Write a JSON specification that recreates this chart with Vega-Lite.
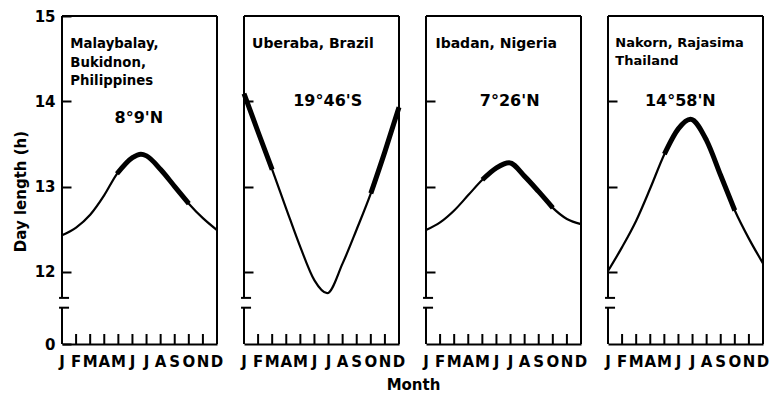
{
  "$schema": "https://vega.github.io/schema/vega-lite/v6.json",
  "padding": {"left": 13, "top": 9, "right": 5, "bottom": 5},
  "background": "white",
  "datasets": {
    "days": [
      {"site": "Malaybalay", "m": 1, "h": 12.43, "bold": 0},
      {"site": "Malaybalay", "m": 2, "h": 12.52, "bold": 0},
      {"site": "Malaybalay", "m": 3, "h": 12.67, "bold": 0},
      {"site": "Malaybalay", "m": 4, "h": 12.9, "bold": 0},
      {"site": "Malaybalay", "m": 4.9, "h": 13.15, "bold": 1},
      {"site": "Malaybalay", "m": 6, "h": 13.34, "bold": 1},
      {"site": "Malaybalay", "m": 6.6, "h": 13.38, "bold": 1},
      {"site": "Malaybalay", "m": 7, "h": 13.36, "bold": 1},
      {"site": "Malaybalay", "m": 8, "h": 13.2, "bold": 1},
      {"site": "Malaybalay", "m": 9, "h": 13.0, "bold": 1},
      {"site": "Malaybalay", "m": 10, "h": 12.8, "bold": 1},
      {"site": "Malaybalay", "m": 11, "h": 12.63, "bold": 0},
      {"site": "Malaybalay", "m": 12, "h": 12.49, "bold": 0},
      {"site": "Uberaba", "m": 1, "h": 14.09, "bold": 1},
      {"site": "Uberaba", "m": 2, "h": 13.64, "bold": 1},
      {"site": "Uberaba", "m": 3, "h": 13.2, "bold": 1},
      {"site": "Uberaba", "m": 4, "h": 12.74, "bold": 0},
      {"site": "Uberaba", "m": 5, "h": 12.29, "bold": 0},
      {"site": "Uberaba", "m": 6, "h": 11.9, "bold": 0},
      {"site": "Uberaba", "m": 6.9, "h": 11.75, "bold": 0},
      {"site": "Uberaba", "m": 8, "h": 12.1, "bold": 0},
      {"site": "Uberaba", "m": 9, "h": 12.5, "bold": 0},
      {"site": "Uberaba", "m": 10, "h": 12.92, "bold": 2},
      {"site": "Uberaba", "m": 11, "h": 13.41, "bold": 2},
      {"site": "Uberaba", "m": 12, "h": 13.93, "bold": 2},
      {"site": "Ibadan", "m": 1, "h": 12.49, "bold": 0},
      {"site": "Ibadan", "m": 2, "h": 12.58, "bold": 0},
      {"site": "Ibadan", "m": 3, "h": 12.72, "bold": 0},
      {"site": "Ibadan", "m": 4, "h": 12.9, "bold": 0},
      {"site": "Ibadan", "m": 5, "h": 13.08, "bold": 1},
      {"site": "Ibadan", "m": 6, "h": 13.22, "bold": 1},
      {"site": "Ibadan", "m": 6.9, "h": 13.28, "bold": 1},
      {"site": "Ibadan", "m": 8, "h": 13.12, "bold": 1},
      {"site": "Ibadan", "m": 9, "h": 12.94, "bold": 1},
      {"site": "Ibadan", "m": 10, "h": 12.75, "bold": 1},
      {"site": "Ibadan", "m": 11, "h": 12.62, "bold": 0},
      {"site": "Ibadan", "m": 12, "h": 12.56, "bold": 0},
      {"site": "Nakorn", "m": 1, "h": 12.01, "bold": 0},
      {"site": "Nakorn", "m": 2, "h": 12.29, "bold": 0},
      {"site": "Nakorn", "m": 3, "h": 12.6, "bold": 0},
      {"site": "Nakorn", "m": 4, "h": 12.98, "bold": 0},
      {"site": "Nakorn", "m": 5, "h": 13.38, "bold": 1},
      {"site": "Nakorn", "m": 6, "h": 13.68, "bold": 1},
      {"site": "Nakorn", "m": 6.85, "h": 13.79, "bold": 1},
      {"site": "Nakorn", "m": 8, "h": 13.54, "bold": 1},
      {"site": "Nakorn", "m": 9, "h": 13.13, "bold": 1},
      {"site": "Nakorn", "m": 10, "h": 12.72, "bold": 1},
      {"site": "Nakorn", "m": 11, "h": 12.39, "bold": 0},
      {"site": "Nakorn", "m": 12, "h": 12.1, "bold": 0}
    ],
    "months": [
      {"m": 1, "lab": "J"}, {"m": 2, "lab": "F"}, {"m": 3, "lab": "M"}, {"m": 4, "lab": "A"},
      {"m": 5, "lab": "M"}, {"m": 6, "lab": "J"}, {"m": 7, "lab": "J"}, {"m": 8, "lab": "A"},
      {"m": 9, "lab": "S"}, {"m": 10, "lab": "O"}, {"m": 11, "lab": "N"}, {"m": 12, "lab": "D"}
    ],
    "one": [{"k": 0}]
  },
  "spacing": 27,
  "bounds": "flush",
  "hconcat": [
    {
      "width": 155, "height": 328,
      "data": {"name": "one"},
      "layer": [
        {"data": {"name": "days"}, "transform": [{"filter": "datum.site == 'Malaybalay'"}],
         "mark": {"type": "line", "color": "black", "strokeWidth": 2.2, "interpolate": "monotone"},
         "encoding": {
           "x": {"field": "m", "type": "quantitative", "scale": {"domain": [1, 12], "nice": false, "zero": false},
                 "axis": {"title": null, "labels": false, "ticks": false}},
           "y": {"field": "h", "type": "quantitative", "scale": {"domain": [0, 11.58, 15], "range": [328, 291.7, 0], "nice": false, "zero": false},
                 "axis": {"values": [0, 12, 13, 14, 15], "title": "Day length (h)", "titleY": 175, "titlePadding": 6}}
         }},
        {"data": {"name": "days"}, "transform": [{"filter": "datum.site == 'Malaybalay' && datum.bold > 0"}],
         "mark": {"type": "line", "color": "black", "strokeWidth": 5, "interpolate": "monotone"},
         "encoding": {"x": {"field": "m", "type": "quantitative"}, "y": {"field": "h", "type": "quantitative"}, "detail": {"field": "bold", "type": "nominal"}}},
        {"data": {"name": "months"}, "mark": {"type": "rule", "color": "black", "strokeWidth": 2},
         "encoding": {"x": {"field": "m", "type": "quantitative"}, "y": {"datum": 0}, "y2": {"datum": 3.19}}},
        {"data": {"name": "months"}, "mark": {"type": "text", "color": "black", "font": "DejaVu Sans", "fontSize": 15, "fontWeight": "bold", "align": "center", "baseline": "top"},
         "encoding": {"x": {"field": "m", "type": "quantitative"}, "y": {"datum": -3.6}, "text": {"field": "lab"}}},
        {"mark": {"type": "rule", "color": "black", "strokeWidth": 2}, "encoding": {"x": {"datum": 1}, "x2": {"datum": 12}, "y": {"datum": 15}}},
        {"mark": {"type": "rule", "color": "black", "strokeWidth": 2}, "encoding": {"x": {"datum": 12}, "y": {"datum": 0}, "y2": {"datum": 15}}},
        {"mark": {"type": "rule", "color": "black", "strokeWidth": 2}, "encoding": {"x": {"datum": 1}, "y": {"datum": 0}, "y2": {"datum": 11.58}}},
        {"mark": {"type": "rule", "color": "black", "strokeWidth": 2}, "encoding": {"x": {"datum": 1}, "y": {"datum": 11.695}, "y2": {"datum": 15}}},
        {"mark": {"type": "rule", "color": "black", "strokeWidth": 2}, "encoding": {"x": {"datum": 0.79}, "x2": {"datum": 1.5}, "y": {"datum": 11.58}}},
        {"mark": {"type": "rule", "color": "black", "strokeWidth": 2}, "encoding": {"x": {"datum": 0.79}, "x2": {"datum": 1.5}, "y": {"datum": 11.695}}},
        {"mark": {"type": "text", "text": ["Malaybalay,", "Bukidnon,", "Philippines"], "align": "left", "baseline": "alphabetic", "lineHeight": 18.5, "font": "DejaVu Sans", "fontSize": 13.3, "fontWeight": "bold", "color": "black"},
         "encoding": {"x": {"datum": 1.59}, "y": {"datum": 14.62}}},
        {"mark": {"type": "text", "text": "8°9'N", "align": "center", "baseline": "alphabetic", "font": "DejaVu Sans", "fontSize": 16, "fontWeight": "bold", "color": "black"},
         "encoding": {"x": {"datum": 6.45}, "y": {"datum": 13.74}}}
      ]
    },
    {
      "width": 155, "height": 328,
      "data": {"name": "one"},
      "layer": [
        {"data": {"name": "days"}, "transform": [{"filter": "datum.site == 'Uberaba'"}],
         "mark": {"type": "line", "color": "black", "strokeWidth": 2.2, "interpolate": "monotone"},
         "encoding": {
           "x": {"field": "m", "type": "quantitative", "scale": {"domain": [1, 12], "nice": false, "zero": false},
                 "axis": {"title": "Month", "titleX": 169, "titlePadding": 33, "labels": false, "ticks": false}},
           "y": {"field": "h", "type": "quantitative", "scale": {"domain": [0, 11.58, 15], "range": [328, 291.7, 0], "nice": false, "zero": false},
                 "axis": {"values": [12, 13, 14], "title": null, "labels": false}}
         }},
        {"data": {"name": "days"}, "transform": [{"filter": "datum.site == 'Uberaba' && datum.bold > 0"}],
         "mark": {"type": "line", "color": "black", "strokeWidth": 5, "interpolate": "monotone"},
         "encoding": {"x": {"field": "m", "type": "quantitative"}, "y": {"field": "h", "type": "quantitative"}, "detail": {"field": "bold", "type": "nominal"}}},
        {"data": {"name": "months"}, "mark": {"type": "rule", "color": "black", "strokeWidth": 2},
         "encoding": {"x": {"field": "m", "type": "quantitative"}, "y": {"datum": 0}, "y2": {"datum": 3.19}}},
        {"data": {"name": "months"}, "mark": {"type": "text", "color": "black", "font": "DejaVu Sans", "fontSize": 15, "fontWeight": "bold", "align": "center", "baseline": "top"},
         "encoding": {"x": {"field": "m", "type": "quantitative"}, "y": {"datum": -3.6}, "text": {"field": "lab"}}},
        {"mark": {"type": "rule", "color": "black", "strokeWidth": 2}, "encoding": {"x": {"datum": 1}, "x2": {"datum": 12}, "y": {"datum": 15}}},
        {"mark": {"type": "rule", "color": "black", "strokeWidth": 2}, "encoding": {"x": {"datum": 12}, "y": {"datum": 0}, "y2": {"datum": 15}}},
        {"mark": {"type": "rule", "color": "black", "strokeWidth": 2}, "encoding": {"x": {"datum": 1}, "y": {"datum": 0}, "y2": {"datum": 11.58}}},
        {"mark": {"type": "rule", "color": "black", "strokeWidth": 2}, "encoding": {"x": {"datum": 1}, "y": {"datum": 11.695}, "y2": {"datum": 15}}},
        {"mark": {"type": "rule", "color": "black", "strokeWidth": 2}, "encoding": {"x": {"datum": 0.79}, "x2": {"datum": 1.5}, "y": {"datum": 11.58}}},
        {"mark": {"type": "rule", "color": "black", "strokeWidth": 2}, "encoding": {"x": {"datum": 0.79}, "x2": {"datum": 1.5}, "y": {"datum": 11.695}}},
        {"mark": {"type": "text", "text": "Uberaba, Brazil", "align": "left", "baseline": "alphabetic", "font": "DejaVu Sans", "fontSize": 14, "fontWeight": "bold", "color": "black"},
         "encoding": {"x": {"datum": 1.57}, "y": {"datum": 14.62}}},
        {"mark": {"type": "text", "text": "19°46'S", "align": "center", "baseline": "alphabetic", "font": "DejaVu Sans", "fontSize": 16, "fontWeight": "bold", "color": "black"},
         "encoding": {"x": {"datum": 6.94}, "y": {"datum": 13.95}}}
      ]
    },
    {
      "width": 155, "height": 328,
      "data": {"name": "one"},
      "layer": [
        {"data": {"name": "days"}, "transform": [{"filter": "datum.site == 'Ibadan'"}],
         "mark": {"type": "line", "color": "black", "strokeWidth": 2.2, "interpolate": "monotone"},
         "encoding": {
           "x": {"field": "m", "type": "quantitative", "scale": {"domain": [1, 12], "nice": false, "zero": false},
                 "axis": {"title": null, "labels": false, "ticks": false}},
           "y": {"field": "h", "type": "quantitative", "scale": {"domain": [0, 11.58, 15], "range": [328, 291.7, 0], "nice": false, "zero": false},
                 "axis": {"values": [12, 13, 14], "title": null, "labels": false}}
         }},
        {"data": {"name": "days"}, "transform": [{"filter": "datum.site == 'Ibadan' && datum.bold > 0"}],
         "mark": {"type": "line", "color": "black", "strokeWidth": 5, "interpolate": "monotone"},
         "encoding": {"x": {"field": "m", "type": "quantitative"}, "y": {"field": "h", "type": "quantitative"}, "detail": {"field": "bold", "type": "nominal"}}},
        {"data": {"name": "months"}, "mark": {"type": "rule", "color": "black", "strokeWidth": 2},
         "encoding": {"x": {"field": "m", "type": "quantitative"}, "y": {"datum": 0}, "y2": {"datum": 3.19}}},
        {"data": {"name": "months"}, "mark": {"type": "text", "color": "black", "font": "DejaVu Sans", "fontSize": 15, "fontWeight": "bold", "align": "center", "baseline": "top"},
         "encoding": {"x": {"field": "m", "type": "quantitative"}, "y": {"datum": -3.6}, "text": {"field": "lab"}}},
        {"mark": {"type": "rule", "color": "black", "strokeWidth": 2}, "encoding": {"x": {"datum": 1}, "x2": {"datum": 12}, "y": {"datum": 15}}},
        {"mark": {"type": "rule", "color": "black", "strokeWidth": 2}, "encoding": {"x": {"datum": 12}, "y": {"datum": 0}, "y2": {"datum": 15}}},
        {"mark": {"type": "rule", "color": "black", "strokeWidth": 2}, "encoding": {"x": {"datum": 1}, "y": {"datum": 0}, "y2": {"datum": 11.58}}},
        {"mark": {"type": "rule", "color": "black", "strokeWidth": 2}, "encoding": {"x": {"datum": 1}, "y": {"datum": 11.695}, "y2": {"datum": 15}}},
        {"mark": {"type": "rule", "color": "black", "strokeWidth": 2}, "encoding": {"x": {"datum": 0.79}, "x2": {"datum": 1.5}, "y": {"datum": 11.58}}},
        {"mark": {"type": "rule", "color": "black", "strokeWidth": 2}, "encoding": {"x": {"datum": 0.79}, "x2": {"datum": 1.5}, "y": {"datum": 11.695}}},
        {"mark": {"type": "text", "text": "Ibadan, Nigeria", "align": "left", "baseline": "alphabetic", "font": "DejaVu Sans", "fontSize": 14, "fontWeight": "bold", "color": "black"},
         "encoding": {"x": {"datum": 1.67}, "y": {"datum": 14.62}}},
        {"mark": {"type": "text", "text": "7°26'N", "align": "center", "baseline": "alphabetic", "font": "DejaVu Sans", "fontSize": 16, "fontWeight": "bold", "color": "black"},
         "encoding": {"x": {"datum": 6.94}, "y": {"datum": 13.94}}}
      ]
    },
    {
      "width": 155, "height": 328,
      "data": {"name": "one"},
      "layer": [
        {"data": {"name": "days"}, "transform": [{"filter": "datum.site == 'Nakorn'"}],
         "mark": {"type": "line", "color": "black", "strokeWidth": 2.2, "interpolate": "monotone"},
         "encoding": {
           "x": {"field": "m", "type": "quantitative", "scale": {"domain": [1, 12], "nice": false, "zero": false},
                 "axis": {"title": null, "labels": false, "ticks": false}},
           "y": {"field": "h", "type": "quantitative", "scale": {"domain": [0, 11.58, 15], "range": [328, 291.7, 0], "nice": false, "zero": false},
                 "axis": {"values": [12, 13, 14], "title": null, "labels": false}}
         }},
        {"data": {"name": "days"}, "transform": [{"filter": "datum.site == 'Nakorn' && datum.bold > 0"}],
         "mark": {"type": "line", "color": "black", "strokeWidth": 5, "interpolate": "monotone"},
         "encoding": {"x": {"field": "m", "type": "quantitative"}, "y": {"field": "h", "type": "quantitative"}, "detail": {"field": "bold", "type": "nominal"}}},
        {"data": {"name": "months"}, "mark": {"type": "rule", "color": "black", "strokeWidth": 2},
         "encoding": {"x": {"field": "m", "type": "quantitative"}, "y": {"datum": 0}, "y2": {"datum": 3.19}}},
        {"data": {"name": "months"}, "mark": {"type": "text", "color": "black", "font": "DejaVu Sans", "fontSize": 15, "fontWeight": "bold", "align": "center", "baseline": "top"},
         "encoding": {"x": {"field": "m", "type": "quantitative"}, "y": {"datum": -3.6}, "text": {"field": "lab"}}},
        {"mark": {"type": "rule", "color": "black", "strokeWidth": 2}, "encoding": {"x": {"datum": 1}, "x2": {"datum": 12}, "y": {"datum": 15}}},
        {"mark": {"type": "rule", "color": "black", "strokeWidth": 2}, "encoding": {"x": {"datum": 12}, "y": {"datum": 0}, "y2": {"datum": 15}}},
        {"mark": {"type": "rule", "color": "black", "strokeWidth": 2}, "encoding": {"x": {"datum": 1}, "y": {"datum": 0}, "y2": {"datum": 11.58}}},
        {"mark": {"type": "rule", "color": "black", "strokeWidth": 2}, "encoding": {"x": {"datum": 1}, "y": {"datum": 11.695}, "y2": {"datum": 15}}},
        {"mark": {"type": "rule", "color": "black", "strokeWidth": 2}, "encoding": {"x": {"datum": 0.79}, "x2": {"datum": 1.5}, "y": {"datum": 11.58}}},
        {"mark": {"type": "rule", "color": "black", "strokeWidth": 2}, "encoding": {"x": {"datum": 0.79}, "x2": {"datum": 1.5}, "y": {"datum": 11.695}}},
        {"mark": {"type": "text", "text": ["Nakorn, Rajasima", "Thailand"], "align": "left", "baseline": "alphabetic", "lineHeight": 18.4, "font": "DejaVu Sans", "fontSize": 13, "fontWeight": "bold", "color": "black"},
         "encoding": {"x": {"datum": 1.52}, "y": {"datum": 14.64}}},
        {"mark": {"type": "text", "text": "14°58'N", "align": "center", "baseline": "alphabetic", "font": "DejaVu Sans", "fontSize": 16, "fontWeight": "bold", "color": "black"},
         "encoding": {"x": {"datum": 6.13}, "y": {"datum": 13.95}}}
      ]
    }
  ],
  "config": {
    "view": {"stroke": null},
    "axisX": {"domain": true, "domainColor": "black", "domainWidth": 2, "grid": false, "titleFont": "DejaVu Sans", "titleFontSize": 15, "titleFontWeight": "bold", "titleColor": "black"},
    "axisY": {"domain": false, "tickColor": "black", "tickWidth": 2, "tickSize": -9, "labelFont": "DejaVu Sans", "labelFontSize": 15, "labelFontWeight": "bold", "labelColor": "black", "labelPadding": 16, "labelOverlap": false, "labelBound": false, "labelFlush": false, "grid": false, "titleFont": "DejaVu Sans", "titleFontSize": 15, "titleFontWeight": "bold", "titleColor": "black"}
  }
}
